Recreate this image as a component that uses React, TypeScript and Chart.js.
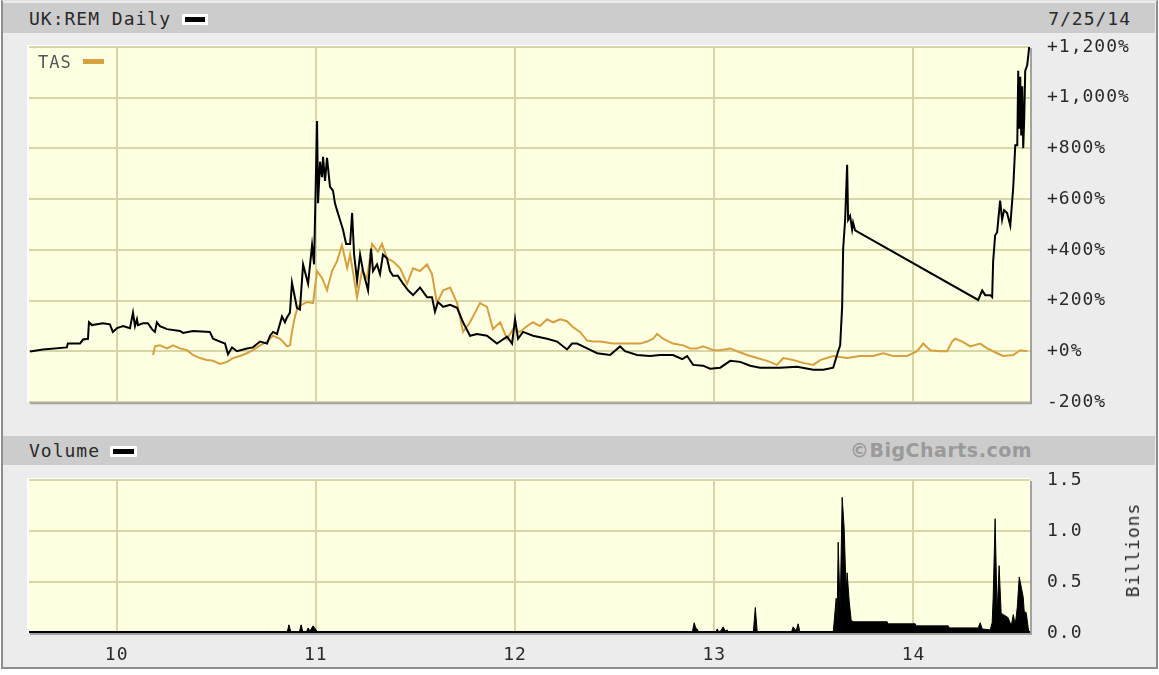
import React, { useEffect, useRef } from "react";
import { Chart, registerables } from "chart.js";

Chart.register(...registerables);

// ---------- data (x = decimal year) ----------
const remDates = [
  2009.565, 2009.63, 2009.75, 2009.755, 2009.816, 2009.831, 2009.856, 2009.861, 2009.876, 2009.931,
  2009.966, 2009.981, 2010.002, 2010.032, 2010.067, 2010.082, 2010.092, 2010.102, 2010.107, 2010.132,
  2010.157, 2010.177, 2010.192, 2010.202, 2010.217, 2010.253, 2010.318, 2010.333, 2010.383, 2010.468,
  2010.484, 2010.519, 2010.544, 2010.559, 2010.579, 2010.604, 2010.654, 2010.684, 2010.72, 2010.755,
  2010.77, 2010.785, 2010.805, 2010.83, 2010.845, 2010.855, 2010.87, 2010.88, 2010.905, 2010.92,
  2010.936, 2010.961, 2010.981, 2010.991, 2011.006, 2011.011, 2011.021, 2011.031, 2011.036, 2011.046,
  2011.056, 2011.071, 2011.086, 2011.096, 2011.106, 2011.121, 2011.136, 2011.152, 2011.172, 2011.182,
  2011.192, 2011.207, 2011.222, 2011.237, 2011.262, 2011.277, 2011.287, 2011.307, 2011.322, 2011.337,
  2011.357, 2011.372, 2011.387, 2011.412, 2011.438, 2011.463, 2011.488, 2011.523, 2011.558, 2011.583,
  2011.598, 2011.613, 2011.639, 2011.674, 2011.709, 2011.739, 2011.774, 2011.809, 2011.859, 2011.909,
  2011.96, 2011.985, 2012.0, 2012.015, 2012.04, 2012.09, 2012.161, 2012.211, 2012.261, 2012.286,
  2012.311, 2012.362, 2012.412, 2012.477, 2012.527, 2012.552, 2012.612, 2012.678, 2012.728, 2012.793,
  2012.839, 2012.864, 2012.894, 2012.944, 2012.979, 2013.03, 2013.08, 2013.13, 2013.18, 2013.23,
  2013.331, 2013.416, 2013.497, 2013.547, 2013.597, 2013.622, 2013.632, 2013.642, 2013.647, 2013.657,
  2013.667, 2013.672, 2013.682, 2013.692, 2013.697, 2013.707, 2014.325, 2014.345, 2014.36, 2014.385,
  2014.395, 2014.4, 2014.41, 2014.42, 2014.435, 2014.445, 2014.455, 2014.47, 2014.486, 2014.501,
  2014.511, 2014.521, 2014.526, 2014.531, 2014.536, 2014.541, 2014.546, 2014.551, 2014.556, 2014.561,
  2014.571, 2014.581,
];
const remValues = [
  0, 8, 16, 31, 31, 47, 50, 115, 104, 111,
  107, 77, 92, 100, 92, 153, 100, 127, 104, 111,
  111, 88, 77, 115, 100, 88, 81, 73, 81, 77,
  50, 39, 31, -11, 16, 1, 12, 16, 39, 31,
  62, 77, 69, 138, 115, 134, 153, 271, 172, 165,
  343, 267, 419, 343, 908, 584, 748, 687, 767, 672,
  763, 649, 634, 584, 557, 519, 481, 424, 424, 546,
  382, 279, 382, 317, 241, 405, 317, 343, 305, 382,
  367, 317, 298, 298, 267, 241, 222, 252, 214, 214,
  157, 195, 176, 184, 172, 115, 62, 69, 62, 31,
  58, 31, 127, 50, 77, 62, 50, 39, 8, 31,
  31, 12, -7, -14, 20, 1, -14, -18, -14, -14,
  -30, -18, -53, -56, -68, -64, -37, -41, -56, -64,
  -64, -60, -72, -72, -64, 1, 24, 176, 405, 519,
  736, 519, 534, 481, 507, 477, 203, 241, 222, 222,
  214, 355, 458, 470, 595, 519, 557, 546, 496, 648,
  813, 813, 1106, 878, 1083, 851, 1045, 801, 916, 1106,
  1129, 1200,
];

const tasDates = [
  2010.183, 2010.192, 2010.217, 2010.253, 2010.283, 2010.318, 2010.353, 2010.383, 2010.418, 2010.453,
  2010.484, 2010.519, 2010.554, 2010.584, 2010.619, 2010.654, 2010.684, 2010.72, 2010.755, 2010.785,
  2010.82, 2010.835, 2010.855, 2010.87, 2010.88, 2010.895, 2010.91, 2010.956, 2010.986, 2011.006,
  2011.031, 2011.056, 2011.081, 2011.106, 2011.131, 2011.157, 2011.172, 2011.207, 2011.232, 2011.257,
  2011.282, 2011.312, 2011.332, 2011.357, 2011.387, 2011.423, 2011.458, 2011.488, 2011.523, 2011.558,
  2011.583, 2011.608, 2011.639, 2011.674, 2011.709, 2011.739, 2011.774, 2011.824, 2011.859, 2011.889,
  2011.925, 2011.96, 2011.99, 2012.025, 2012.06, 2012.09, 2012.125, 2012.161, 2012.191, 2012.226,
  2012.261, 2012.291, 2012.326, 2012.362, 2012.392, 2012.427, 2012.492, 2012.563, 2012.628, 2012.663,
  2012.693, 2012.713, 2012.743, 2012.793, 2012.844, 2012.879, 2012.914, 2012.944, 2012.995, 2013.03,
  2013.08, 2013.115, 2013.165, 2013.215, 2013.265, 2013.315, 2013.346, 2013.396, 2013.446, 2013.497,
  2013.532, 2013.597, 2013.667, 2013.732, 2013.798, 2013.848, 2013.898, 2013.968, 2014.018, 2014.049,
  2014.084, 2014.134, 2014.169, 2014.194, 2014.209, 2014.245, 2014.285, 2014.335, 2014.37, 2014.42,
  2014.45, 2014.501, 2014.536, 2014.571,
];
const tasValues = [
  -14, 20, 24, 12, 24, 12, 5, -14, -26, -34,
  -37, -49, -41, -26, -18, -7, 5, 24, 39, 62,
  50, 39, 20, 24, 77, 138, 176, 195, 191, 317,
  290, 241, 317, 355, 419, 328, 382, 214, 317, 290,
  424, 393, 424, 367, 355, 328, 267, 328, 317, 343,
  305, 191, 241, 252, 191, 77, 115, 191, 176, 88,
  115, 50, 88, 77, 100, 115, 100, 127, 115, 127,
  119, 96, 77, 43, 39, 39, 31, 31, 31, 39,
  50, 69, 50, 31, 24, 12, 12, 20, 5, 5,
  12, 1, -14, -26, -37, -53, -26, -34, -45, -53,
  -34, -18, -26, -18, -18, -7, -18, -18, 1, 31,
  5, 1, 1, 39, 50, 39, 20, 31, 12, -7,
  -18, -14, 5, 1,
];

const volDates = [
  2009.56, 2010.75, 2010.76, 2010.77, 2010.855, 2010.865, 2010.876, 2010.916, 2010.926, 2010.936,
  2010.951, 2010.961, 2010.971, 2010.986, 2011.001, 2011.016, 2012.809, 2012.819, 2012.829, 2012.844,
  2012.854, 2012.864, 2012.889, 2012.899, 2012.909, 2012.914, 2012.924, 2013.005, 2013.015, 2013.025,
  2013.045, 2013.055, 2013.065, 2013.075, 2013.196, 2013.206, 2013.216, 2013.386, 2013.396, 2013.411,
  2013.421, 2013.431, 2013.597, 2013.612, 2013.617, 2013.622, 2013.632, 2013.642, 2013.652, 2013.662,
  2013.667, 2013.677, 2013.687, 2013.697, 2013.868, 2013.873, 2014.009, 2014.014, 2014.175, 2014.18,
  2014.325, 2014.335, 2014.345, 2014.385, 2014.395, 2014.4, 2014.41, 2014.42, 2014.43, 2014.44,
  2014.45, 2014.46, 2014.475, 2014.491, 2014.501, 2014.511, 2014.521, 2014.531, 2014.541, 2014.551,
  2014.556, 2014.566, 2014.576, 2014.581,
];
const volValues = [
  0, 0, 0.02, 0, 0, 0.08, 0, 0, 0.08, 0,
  0, 0.05, 0.02, 0.07, 0.03, 0, 0, 0.02, 0, 0,
  0.02, 0, 0, 0.1, 0.04, 0.04, 0, 0, 0.04, 0,
  0.06, 0.02, 0.03, 0, 0, 0.25, 0, 0, 0.06, 0.02,
  0.09, 0, 0, 0.34, 0.12, 0.89, 0.22, 1.33, 1.03, 0.4,
  0.59, 0.32, 0.13, 0.11, 0.11, 0.09, 0.09, 0.07, 0.07, 0.05,
  0.05, 0.1, 0.04, 0.03, 0.1, 0.34, 1.12, 0.19, 0.66, 0.2,
  0.18, 0.17, 0.15, 0.07, 0.18, 0.08, 0.25, 0.55, 0.45, 0.35,
  0.21, 0.2, 0.05, 0,
];

const yearTicks = [2010, 2011, 2012, 2013, 2014];
const priceTicks = [-200, 0, 200, 400, 600, 800, 1000, 1200];
const volumeTicks = [0, 0.5, 1.0, 1.5];
const X_MIN = 2009.56;
const X_MAX = 2014.585;

// ---------- styles ----------
const MONO = "'DejaVu Sans Mono', monospace";
const TEXT = "#2a2a2a";
const GOLD = "#d6a040";
const GRID = "#d7d6a6";
const PLOT_BG = "#ffffe1";
const BAR_BG = "#cccccc";
const FRAME_BG = "#ececec";

function makePanelPlugin(baseline: boolean) {
  return {
    id: "panel",
    beforeDraw(chart: any) {
      const { ctx, chartArea: a } = chart;
      ctx.letterSpacing = "1px";
      ctx.save();
      ctx.fillStyle = PLOT_BG;
      ctx.fillRect(a.left, a.top, a.right - a.left, a.bottom - a.top);
      ctx.strokeStyle = "#ffffff";
      ctx.lineWidth = 2;
      ctx.beginPath();
      ctx.moveTo(a.left - 1, a.bottom);
      ctx.lineTo(a.left - 1, a.top - 1);
      ctx.lineTo(a.right, a.top - 1);
      ctx.stroke();
      ctx.restore();
    },
    afterDraw(chart: any) {
      const { ctx, chartArea: a } = chart;
      ctx.save();
      if (baseline) {
        ctx.strokeStyle = "#000000";
        ctx.lineWidth = 2;
        ctx.beginPath();
        ctx.moveTo(a.left, a.bottom - 1);
        ctx.lineTo(a.right, a.bottom - 1);
        ctx.stroke();
      }
      ctx.strokeStyle = "#a2a2a2";
      ctx.lineWidth = 2;
      ctx.beginPath();
      ctx.moveTo(a.right + 1, a.top + 1);
      ctx.lineTo(a.right + 1, a.bottom + 2);
      ctx.moveTo(a.left + 1, a.bottom + 1);
      ctx.lineTo(a.right + 2, a.bottom + 1);
      ctx.stroke();
      ctx.restore();
    },
  };
}

const fmtPct = (v: number) =>
  (v < 0 ? "-" : "+") + Math.abs(v).toLocaleString("en-US") + "%";

const textStyle: React.CSSProperties = {
  position: "absolute",
  fontFamily: MONO,
  fontSize: 18,
  letterSpacing: "1px",
  color: TEXT,
  lineHeight: "20px",
  whiteSpace: "nowrap",
};

export default function App() {
  const topRef = useRef<HTMLCanvasElement>(null);
  const volRef = useRef<HTMLCanvasElement>(null);

  useEffect(() => {
    const gridOpts = { color: GRID, lineWidth: 2, drawTicks: false };
    const top = new Chart(topRef.current as HTMLCanvasElement, {
      type: "line",
      data: {
        datasets: [
          {
            label: "UK:REM",
            data: remDates.map((d, i) => ({ x: d, y: remValues[i] })),
            borderColor: "#000000",
            borderWidth: 2,
            pointRadius: 0,
            tension: 0,
          },
          {
            label: "TAS",
            data: tasDates.map((d, i) => ({ x: d, y: tasValues[i] })),
            borderColor: GOLD,
            borderWidth: 2,
            pointRadius: 0,
            tension: 0,
          },
        ],
      },
      options: {
        responsive: false,
        animation: false,
        devicePixelRatio: 1,
        layout: { padding: { left: 29, top: 47, right: 0, bottom: 14 } },
        plugins: { legend: { display: false }, tooltip: { enabled: false } },
        scales: {
          x: {
            type: "linear",
            min: X_MIN,
            max: X_MAX,
            afterBuildTicks: (s: any) => {
              s.ticks = yearTicks.map((v) => ({ value: v }));
            },
            ticks: { display: false },
            grid: gridOpts,
            border: { display: false },
            afterFit: (s: any) => {
              s.height = 0;
            },
          },
          y: {
            type: "linear",
            position: "right",
            min: -200,
            max: 1200,
            afterBuildTicks: (s: any) => {
              s.ticks = priceTicks.map((v) => ({ value: v }));
            },
            ticks: {
              padding: 17,
              color: TEXT,
              font: { family: MONO, size: 18 },
              callback: (v: any) => fmtPct(Number(v)),
            },
            grid: gridOpts,
            border: { display: false },
            afterFit: (s: any) => {
              s.width = 129;
            },
          },
        },
      } as any,
      plugins: [makePanelPlugin(false)],
    });

    const vol = new Chart(volRef.current as HTMLCanvasElement, {
      type: "line",
      data: {
        datasets: [
          {
            label: "Volume",
            data: volDates.map((d, i) => ({ x: d, y: volValues[i] })),
            borderColor: "#000000",
            backgroundColor: "#000000",
            borderWidth: 1,
            pointRadius: 0,
            tension: 0,
            fill: "origin",
          },
        ],
      },
      options: {
        responsive: false,
        animation: false,
        devicePixelRatio: 1,
        layout: { padding: { left: 29, top: 40, right: 0, bottom: 0 } },
        plugins: { legend: { display: false }, tooltip: { enabled: false } },
        scales: {
          x: {
            type: "linear",
            min: X_MIN,
            max: X_MAX,
            afterBuildTicks: (s: any) => {
              s.ticks = yearTicks.map((v) => ({ value: v }));
            },
            ticks: {
              padding: 12,
              color: TEXT,
              font: { family: MONO, size: 18 },
              maxRotation: 0,
              callback: (v: any) => String(Number(v) - 2000),
            },
            grid: gridOpts,
            border: { display: false },
            afterFit: (s: any) => {
              s.height = 42;
            },
          },
          y: {
            type: "linear",
            position: "right",
            min: 0,
            max: 1.5,
            afterBuildTicks: (s: any) => {
              s.ticks = volumeTicks.map((v) => ({ value: v }));
            },
            ticks: {
              padding: 17,
              color: TEXT,
              font: { family: MONO, size: 18 },
              callback: (v: any) => Number(v).toFixed(1),
            },
            grid: gridOpts,
            border: { display: false },
            afterFit: (s: any) => {
              s.width = 129;
            },
          },
        },
      } as any,
      plugins: [makePanelPlugin(true)],
    });

    return () => {
      top.destroy();
      vol.destroy();
    };
  }, []);

  return (
    <div
      style={{
        position: "fixed",
        left: 0,
        top: 0,
        width: 1159,
        height: 675,
        background: "#ffffff",
        overflow: "hidden",
      }}
    >
      {/* frame */}
      <div
        style={{
          position: "absolute",
          left: 1,
          top: 0,
          width: 1157,
          height: 669,
          boxSizing: "border-box",
          background: FRAME_BG,
          borderLeft: "2px solid #8e8e8e",
          borderRight: "2px solid #8e8e8e",
          borderBottom: "2px solid #8e8e8e",
          borderTop: "1px solid #e0e0e0",
        }}
      />
      {/* header bar */}
      <div style={{ position: "absolute", left: 3, top: 3, width: 1152, height: 30, background: BAR_BG }} />
      <div style={{ ...textStyle, left: 29, top: 9 }}>UK:REM Daily</div>
      <div
        style={{
          position: "absolute",
          left: 182,
          top: 14,
          width: 26,
          height: 11,
          boxSizing: "border-box",
          background: "#000",
          border: "3px solid #fff",
          borderRadius: 1,
        }}
      />
      <div style={{ ...textStyle, right: 28, top: 9 }}>7/25/14</div>

      {/* middle bar */}
      <div style={{ position: "absolute", left: 3, top: 436, width: 1152, height: 29, background: BAR_BG }} />
      <div style={{ ...textStyle, left: 29, top: 441 }}>Volume</div>
      <div
        style={{
          position: "absolute",
          left: 110,
          top: 446,
          width: 27,
          height: 11,
          boxSizing: "border-box",
          background: "#000",
          border: "3px solid #fff",
          borderRadius: 1,
        }}
      />
      <div
        style={{
          position: "absolute",
          right: 1159 - 1032,
          top: 439,
          fontFamily: "'DejaVu Sans', sans-serif",
          fontWeight: "bold",
          fontSize: 19,
          letterSpacing: "0.5px",
          lineHeight: "22px",
          color: "#9a9a9a",
          whiteSpace: "nowrap",
        }}
      >
        ©BigCharts.com
      </div>

      {/* charts */}
      <canvas ref={topRef} width={1159} height={430} style={{ position: "absolute", left: 0, top: 0 }} />
      <canvas ref={volRef} width={1159} height={235} style={{ position: "absolute", left: 0, top: 440 }} />

      {/* legend inside price panel */}
      <div style={{ ...textStyle, left: 38, top: 52, fontSize: 17, color: "#555" }}>TAS</div>
      <div style={{ position: "absolute", left: 83, top: 59, width: 21, height: 5, background: GOLD }} />

      {/* volume axis title */}
      <div
        style={{
          ...textStyle,
          left: 1133,
          top: 550,
          transform: "translate(-50%, -50%) rotate(-90deg)",
        }}
      >
        Billions
      </div>
    </div>
  );
}
